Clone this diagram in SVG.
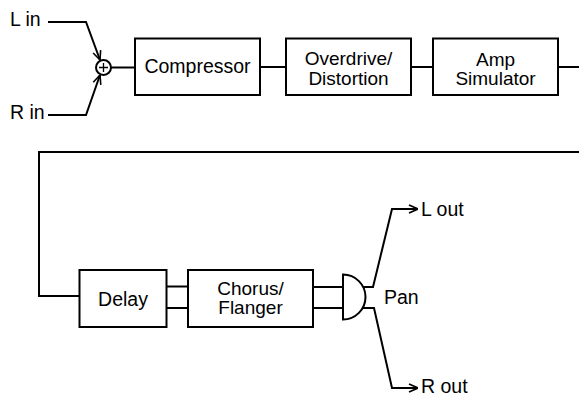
<svg xmlns="http://www.w3.org/2000/svg" width="579" height="396" viewBox="0 0 579 396">
<style>
.box{fill:#fff;stroke:#000;stroke-width:2}
.ln{fill:none;stroke:#000;stroke-width:2}
text{font-family:"Liberation Sans",Arial,sans-serif;font-size:19.5px;fill:#000}
.c{text-anchor:middle}
.t{font-size:19px}
</style>
<defs>
<marker id="arr" viewBox="0 0 10 10" refX="10" refY="5" markerWidth="10" markerHeight="10" markerUnits="userSpaceOnUse" orient="auto">
<path d="M1,1 L10,5 L1,9" fill="none" stroke="#000" stroke-width="1.6"/>
</marker>
</defs>
<rect width="579" height="396" fill="#fff"/>
<g id="connectors">
<polyline class="ln" points="48,22 86,22 100,60" marker-end="url(#arr)"/>
<polyline class="ln" points="48,115 86,115 100,75" marker-end="url(#arr)"/>
<line class="ln" x1="111" y1="67.5" x2="135" y2="67.5"/>
<line class="ln" x1="260" y1="67" x2="286" y2="67"/>
<line class="ln" x1="411" y1="67" x2="433" y2="67"/>
<line class="ln" x1="558" y1="67" x2="579" y2="67"/>
<polyline class="ln" points="579,152 39,152 39,296 79,296"/>
<line class="ln" x1="167" y1="286.5" x2="188" y2="286.5"/>
<line class="ln" x1="167" y1="308" x2="188" y2="308"/>
<line class="ln" x1="313" y1="287" x2="343" y2="287"/>
<line class="ln" x1="313" y1="308" x2="343" y2="308"/>
<polyline class="ln" points="363,287 373,287 392,209 418,209" marker-end="url(#arr)"/>
<polyline class="ln" points="363,308 374,308 392,388 418,388" marker-end="url(#arr)"/>
</g>
<g id="mixer">
<circle cx="103.5" cy="67.5" r="7.5" fill="#fff" stroke="#000" stroke-width="2"/>
<path d="M99,67.5 H108 M103.5,63 V72" stroke="#000" stroke-width="1.3"/>
</g>
<g id="lin"><text x="10" y="26">L in</text></g>
<g id="rin"><text x="10" y="119">R in</text></g>
<g id="compressor">
<rect class="box" x="135" y="38.5" width="125" height="56.5"/>
<text class="c" x="197.5" y="73">Compressor</text>
</g>
<g id="overdrive">
<rect class="box" x="286" y="38.5" width="125" height="56.5"/>
<text class="c t" x="348.5" y="65">Overdrive/</text>
<text class="c t" x="348.5" y="84.5">Distortion</text>
</g>
<g id="amp">
<rect class="box" x="433" y="38.5" width="125" height="56.5"/>
<text class="c t" x="495.5" y="65.5">Amp</text>
<text class="c t" x="495.5" y="85">Simulator</text>
</g>
<g id="delay">
<rect class="box" x="79.5" y="270" width="87" height="57"/>
<text class="c" x="123" y="306">Delay</text>
</g>
<g id="chorus">
<rect class="box" x="188" y="270" width="125" height="57"/>
<text class="c t" x="250.5" y="294.5">Chorus/</text>
<text class="c t" x="250.5" y="314">Flanger</text>
</g>
<g id="pan">
<path class="box" d="M343,274.5 V319.5 A22.5,22.5 0 0 0 343,274.5 Z"/>
<text x="384" y="304">Pan</text>
</g>
<g id="lout"><text x="421" y="215.5">L out</text></g>
<g id="rout"><text x="421" y="393">R out</text></g>
</svg>
